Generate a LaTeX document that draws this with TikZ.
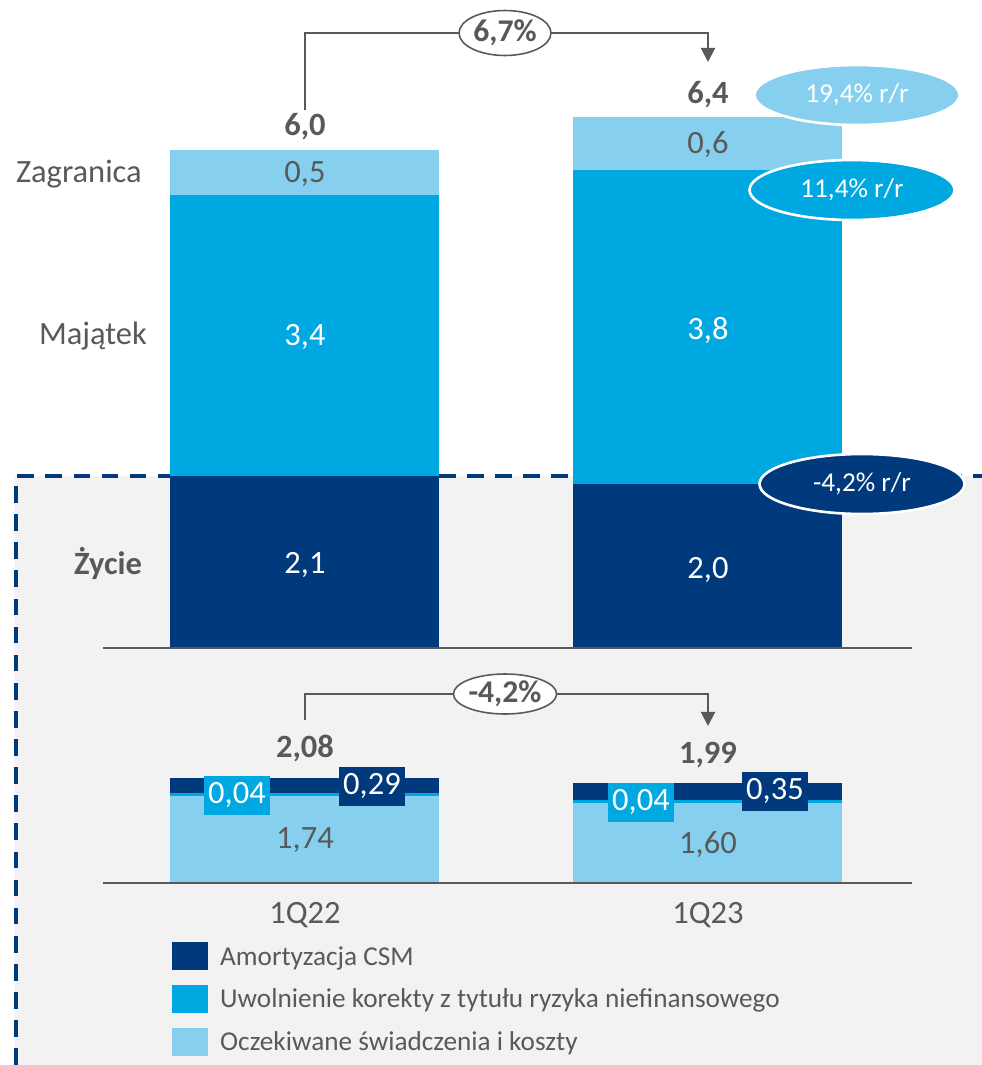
\documentclass[tikz,border=0pt]{standalone}
\usepackage{fontspec}
\setmainfont{Carlito}
\usepackage{xcolor}
\usepackage{tikz}
\usetikzlibrary{shapes.geometric,arrows.meta}
\definecolor{zagr}{HTML}{87CFEF}
\definecolor{maj}{HTML}{00A8E1}
\definecolor{zyc}{HTML}{003A7D}
\definecolor{txt}{HTML}{595959}
\definecolor{bgg}{HTML}{F2F2F2}

\begin{document}
\begin{tikzpicture}[x=0.02cm,y=-0.02cm,
  val/.style={text=txt,font=\fontsize{18.5}{22}\selectfont},
  wval/.style={text=white,font=\fontsize{18.5}{22}\selectfont},
  tot/.style={text=txt,font=\fontsize{18.5}{22}\selectfont\bfseries},
  conn/.style={draw=txt,line width=1.1pt},
  growth/.style={ellipse,draw=txt,fill=white,line width=0.9pt,inner sep=0pt,text=txt,font=\fontsize{18}{22}\selectfont\bfseries},
  yoy/.style={ellipse,draw=white,line width=1.5pt,inner sep=0pt,minimum width=4.1cm,minimum height=1.2cm,text=white,font=\fontsize{15.5}{18}\selectfont},
  tag/.style={inner sep=0pt,minimum width=1.32cm,minimum height=0.78cm,text=white,font=\fontsize{18.5}{22}\selectfont},
  leg/.style={text=txt,anchor=west,font=\fontsize{15.5}{18}\selectfont}]
\useasboundingbox (0,0) rectangle (982,1065);
\fill[bgg] (15,476) rectangle (982,1065);
\draw[zyc,line width=2pt,dash pattern=on 9.5pt off 6.5pt] (16,1065) -- (16,476) -- (982,476);

\fill[zagr] (170,150) rectangle (439,195);
\fill[maj] (170,195) rectangle (439,476);
\fill[zyc] (170,476) rectangle (439,648);
\fill[zagr] (573,117) rectangle (842,170);
\fill[maj] (573,170) rectangle (842,484);
\fill[zyc] (573,484) rectangle (842,648);
\draw[txt,line width=1.1pt] (103,648) -- (912,648);

\node[val,anchor=east] (lzagr) at (148,174) {Zagranica};
\node[val] (lmaj) at (93,336) {Majątek};
\node[tot] (lzyc) at (108,563) {Życie};

\node[tot] (t1) at (305,127) {6,0};
\node[tot] (t2) at (708,95) {6,4};
\node[val] at (305,174) {0,5};
\node[wval] at (305,337) {3,4};
\node[wval] at (305,565) {2,1};
\node[val] at (708,145) {0,6};
\node[wval] at (708,330) {3,8};
\node[wval] at (708,570) {2,0};

\coordinate (c1) at (305,110);
\coordinate (c2) at (708,62);
\draw[conn,-{Triangle[width=8pt,length=8pt]}] (c1) |- (505,33) -| (c2);
\node[growth,minimum width=1.84cm,minimum height=0.9cm] (g1) at (505,33) {6,7\%};

\node[yoy,fill=zagr] (y1) at (857,95) {19,4\% r/r};
\node[yoy,fill=maj] (y2) at (852,190) {11,4\% r/r};
\node[yoy,fill=zyc] (y3) at (862,484) {-4,2\% r/r};

\fill[zyc] (170,778) rectangle (439,793);
\fill[maj] (170,793) rectangle (439,796);
\fill[zagr] (170,796) rectangle (439,883);
\fill[zyc] (573,783) rectangle (842,800);
\fill[maj] (573,800) rectangle (842,803);
\fill[zagr] (573,803) rectangle (842,883);
\draw[txt,line width=1.1pt] (103,883) -- (912,883);

\node[tot] (s1) at (305,748) {2,08};
\node[tot] (s2) at (708,755) {1,99};
\node[tag,fill=maj] at (237,795) {0,04};
\node[tag,fill=zyc] at (372,786) {0,29};
\node[val] at (305,840) {1,74};
\node[tag,fill=maj] at (641,802) {0,04};
\node[tag,fill=zyc] at (775,791) {0,35};
\node[val] at (708,845) {1,60};

\coordinate (d1) at (305,720);
\coordinate (d2) at (708,726);
\draw[conn,-{Triangle[width=8pt,length=8pt]}] (d1) |- (505,694) -| (d2);
\node[growth,minimum width=2cm,minimum height=0.8cm] (g2) at (505,694) {-4,2\%};

\node[val] (q1) at (305,915) {1Q22};
\node[val] (q2) at (708,915) {1Q23};

\fill[zyc] (172,942) rectangle (208,970);
\node[leg] (l1) at (214,958) {Amortyzacja CSM};
\fill[maj] (172,985) rectangle (208,1013);
\node[leg] (l2) at (214,1000) {Uwolnienie korekty z tytułu ryzyka niefinansowego};
\fill[zagr] (172,1028) rectangle (208,1056);
\node[leg] (l3) at (214,1043) {Oczekiwane świadczenia i koszty};
\end{tikzpicture}
\end{document}
